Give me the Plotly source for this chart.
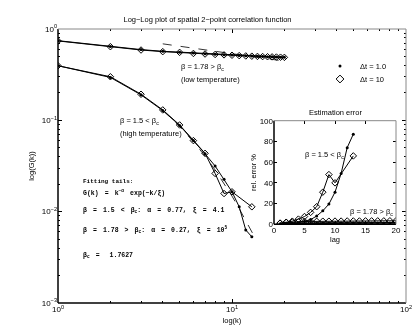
import plotly.graph_objects as go

# ---- main plot data: spatial 2-point correlation G(k) ----
k = list(range(1, 21))
# beta = 1.78 (low temperature)
low_dt1 = [0.745, 0.645, 0.595, 0.570, 0.558, 0.545, 0.535, 0.529, 0.523, 0.518,
           0.513, 0.509, 0.506, 0.503, 0.500, 0.498, 0.496, 0.494, 0.492, 0.490]
low_dt10 = [0.740, 0.640, 0.589, 0.565, 0.555, 0.540, 0.532, 0.526, 0.521, 0.516,
            0.511, 0.507, 0.504, 0.501, 0.499, 0.497, 0.495, 0.493, 0.491, 0.489]
k_hi = list(range(1, 14))
# beta = 1.5 (high temperature)
hi_dt1 = [0.396, 0.295, 0.190, 0.128, 0.088, 0.060, 0.043, 0.0316, 0.0226, 0.0165,
          0.0113, 0.0063, 0.0053]
hi_dt10 = [0.396, 0.300, 0.193, 0.130, 0.089, 0.060, 0.0435, 0.0262, 0.0158, 0.0165,
           None, None, 0.0113]
# fitted tails (dashed)
k_fit_low = [4, 6, 8, 10, 12, 14, 16, 18, 20]
fit_low = [0.688, 0.616, 0.570, 0.537, 0.511, 0.490, 0.473, 0.458, 0.445]
k_fit_hi = [4, 5, 6, 7, 8, 9, 10, 11, 12, 13, 13.7]
fit_hi = [0.130, 0.0855, 0.0582, 0.0406, 0.0286, 0.0205, 0.0148, 0.0108, 0.0079, 0.0058, 0.0050]

# ---- inset data: relative estimation error (%) ----
lag = list(range(1, 21))
lag_hi = list(range(1, 14))
err_hi_dt1 = [0.3, 0.5, 1.0, 1.5, 3.0, 4.5, 8.0, 13.0, 19.5, 31.0, 49.0, 74.0, 87.0]
err_hi_dt10 = [1.0, 2.0, 3.0, 5.0, 7.5, 11.5, 17.0, 31.0, 48.0, 40.0, None, None, 66.0]
err_low_dt1 = [0.4, 0.6, 0.7, 0.8, 0.9, 1.0, 1.0, 1.1, 1.1, 1.1,
               1.2, 1.2, 1.2, 1.2, 1.3, 1.3, 1.3, 1.3, 1.3, 1.3]
err_low_dt10 = [1.2, 1.8, 2.2, 2.5, 2.7, 2.8, 2.9, 3.0, 3.0, 3.1,
                3.1, 3.2, 3.2, 3.2, 3.3, 3.3, 3.3, 3.3, 3.4, 3.4]

W, H = 415, 328
L, R, T, B = 58, 406, 29, 303   # main plot area in pixels


def px(x):
    return (x - L) / (R - L)


def py(y):
    return (B - y) / (B - T)


FONT = "Liberation Sans, Arial, sans-serif"
MONO = "Liberation Mono, Courier New, monospace"

fig = go.Figure()

dot = dict(symbol="circle", size=3, color="black")
dia = dict(symbol="diamond-open", size=5, color="black", line=dict(width=1, color="black"))
ln = dict(color="black", width=1)

for xs, ys in [(k, low_dt1), (k_hi, hi_dt1)]:
    fig.add_trace(go.Scatter(x=xs, y=ys, mode="lines+markers", line=ln, marker=dot,
                             showlegend=False))
for xs, ys in [(k, low_dt10), (k_hi, hi_dt10)]:
    fig.add_trace(go.Scatter(x=xs, y=ys, mode="lines+markers", line=ln, marker=dia,
                             connectgaps=True, showlegend=False))
for xs, ys in [(k_fit_low, fit_low), (k_fit_hi, fit_hi)]:
    fig.add_trace(go.Scatter(x=xs, y=ys, mode="lines", showlegend=False,
                             line=dict(color="black", width=0.8, dash="dash")))

# inset
fig.add_trace(go.Scatter(x=lag_hi, y=err_hi_dt1, mode="lines+markers", line=ln, marker=dot,
                         xaxis="x2", yaxis="y2", showlegend=False))
fig.add_trace(go.Scatter(x=lag_hi, y=err_hi_dt10, mode="lines+markers", line=ln, marker=dia,
                         connectgaps=True, xaxis="x2", yaxis="y2", showlegend=False))
fig.add_trace(go.Scatter(x=lag, y=err_low_dt1, mode="lines+markers",
                         line=dict(color="black", width=1.8),
                         marker=dot, xaxis="x2", yaxis="y2", showlegend=False))
fig.add_trace(go.Scatter(x=lag, y=err_low_dt10, mode="lines+markers", line=ln, marker=dia,
                         xaxis="x2", yaxis="y2", showlegend=False))

# legend entries (markers only), one legend each so they can sit close together
fig.add_trace(go.Scatter(x=[None], y=[None], mode="markers", marker=dot,
                         name="\u0394t = 1.0", legend="legend"))
fig.add_trace(go.Scatter(x=[None], y=[None], mode="markers", marker=dict(dia, size=6),
                         name="\u0394t = 10", legend="legend2"))

minor_vals = [m * 10 ** e for e in range(-3, 2) for m in range(2, 10)]
tickfont = dict(family=FONT, size=8, color="black")
legfont = dict(size=7.5, family=FONT, color="black")

fig.update_layout(
    width=W, height=H,
    margin=dict(l=L, r=W - R, t=T, b=H - B),
    paper_bgcolor="white", plot_bgcolor="white",
    font=dict(family=FONT, size=8, color="black"),
    title=dict(text="Log\u2212Log plot of spatial 2\u2212point correlation function",
               x=px(232), xanchor="center", y=1 - 19 / H, yanchor="middle",
               font=dict(size=7.5, family=FONT)),
    xaxis=dict(type="log", range=[0, 2], tickmode="array", tickvals=[1, 10, 100],
               ticktext=["10<sup>0</sup>", "10<sup>1</sup>", "10<sup>2</sup>"],
               ticks="inside", ticklen=4, tickcolor="black", mirror="allticks",
               showline=False, showgrid=False, zeroline=False, tickfont=tickfont,
               automargin=False,
               minor=dict(tickmode="array", tickvals=minor_vals, ticks="inside",
                          ticklen=2, tickcolor="black", showgrid=False),
               title=dict(text="log(k)", font=dict(size=7.5), standoff=4)),
    yaxis=dict(type="log", range=[-3, 0], tickmode="array", tickvals=[0.001, 0.01, 0.1, 1],
               ticktext=["10<sup>\u22123</sup>", "10<sup>\u22122</sup>", "10<sup>\u22121</sup>",
                         "10<sup>0</sup>"],
               ticks="inside", ticklen=4, tickcolor="black", mirror="allticks",
               showline=False, showgrid=False, zeroline=False, tickfont=tickfont,
               automargin=False,
               minor=dict(tickmode="array", tickvals=minor_vals, ticks="inside",
                          ticklen=2, tickcolor="black", showgrid=False),
               title=dict(text="log(G(k))", font=dict(size=7.5), standoff=6)),
    xaxis2=dict(domain=[px(274), px(396)], anchor="y2", range=[0, 20],
                tickvals=[0, 5, 10, 15, 20], ticks="inside", ticklen=3, tickcolor="black",
                mirror="allticks", showline=False, showgrid=False, zeroline=False,
                tickfont=tickfont, automargin=False,
                title=dict(text="lag", font=dict(size=7.5), standoff=2)),
    yaxis2=dict(domain=[py(224.3), py(120.7)], anchor="x2", range=[0, 100],
                tickvals=[0, 20, 40, 60, 80, 100], ticks="inside", ticklen=3, tickcolor="black",
                mirror="allticks", showline=False, showgrid=False, zeroline=False,
                tickfont=tickfont, automargin=False,
                title=dict(text="rel. error %", font=dict(size=7.5), standoff=2)),
    legend=dict(x=px(320), y=py(66), xanchor="left", yanchor="middle",
                bgcolor="rgba(0,0,0,0)", font=legfont, itemwidth=30),
    legend2=dict(x=px(320), y=py(79), xanchor="left", yanchor="middle",
                 bgcolor="rgba(0,0,0,0)", font=legfont, itemwidth=30),
)

# axis frames: dark left/bottom, light top/right
for xa, ya in [("x", "y"), ("x2", "y2")]:
    xr, yr = xa + " domain", ya + " domain"
    fig.add_shape(type="line", xref=xr, yref=yr, x0=0, x1=0, y0=0, y1=1,
                  line=dict(color="black", width=1.5))
    fig.add_shape(type="line", xref=xr, yref=yr, x0=0, x1=1, y0=0, y1=0,
                  line=dict(color="black", width=1.5))
    fig.add_shape(type="line", xref=xr, yref=yr, x0=0, x1=1, y0=1, y1=1,
                  line=dict(color="#888888", width=1))
    fig.add_shape(type="line", xref=xr, yref=yr, x0=1, x1=1, y0=0, y1=1,
                  line=dict(color="#888888", width=1))


def note(text, x, y, mono=False, anchor="left", size=7.5):
    fig.add_annotation(text=text, x=px(x), y=py(y), xref="paper", yref="paper",
                       xanchor=anchor, yanchor="middle", showarrow=False,
                       font=dict(family=MONO if mono else FONT, size=size, color="black"))


note("\u03b2 = 1.78 &gt; \u03b2<sub>c</sub>", 179, 67)
note("(low temperature)", 179, 79)
note("\u03b2 = 1.5 &lt; \u03b2<sub>c</sub>", 118, 121)
note("(high temperature)", 118, 133)
note("Estimation error", 335, 112, anchor="center")
note("\u03b2 = 1.5 &lt; \u03b2<sub>c</sub>", 346, 155, anchor="right")
note("\u03b2 = 1.78 &gt; \u03b2<sub>c</sub>", 348, 212)

# monospaced fit summary (wide token spacing as in the original)
sp = "\u00a0\u2004"
note("<b>Fitting tails:</b>", 81, 181, mono=True, size=6)
note("<b>" + sp.join(["G(k)", "=", "k<sup>\u2212\u03b1</sup>", "exp(\u2212k/\u03be)"]) + "</b>",
     81, 193, mono=True, size=6.5)
note("<b>" + sp.join(["\u03b2", "=", "1.5", "&lt;", "\u03b2<sub>c</sub>:", "\u03b1", "=",
                      "0.77,", "\u03be", "=", "4.1"]) + "</b>",
     81, 210, mono=True, size=6.5)
note("<b>" + sp.join(["\u03b2", "=", "1.78", "&gt;", "\u03b2<sub>c</sub>:", "\u03b1", "=",
                      "0.27,", "\u03be", "=", "10<sup>5</sup>"]) + "</b>",
     81, 229, mono=True, size=6.5)
note("<b>" + sp.join(["\u03b2<sub>c</sub>", "=", "\u00a01.7627"]) + "</b>", 81, 256,
     mono=True, size=6.5)

# the page body has a default 8px margin; remove it so the figure sits at the window origin,
# and render in grayscale like the original monochrome figure
fig.write_html("out.html", config={"displayModeBar": False},
               post_script="document.body.style.margin='0px';"
                           "document.getElementById('{plot_id}').style.filter='grayscale(1)';")
